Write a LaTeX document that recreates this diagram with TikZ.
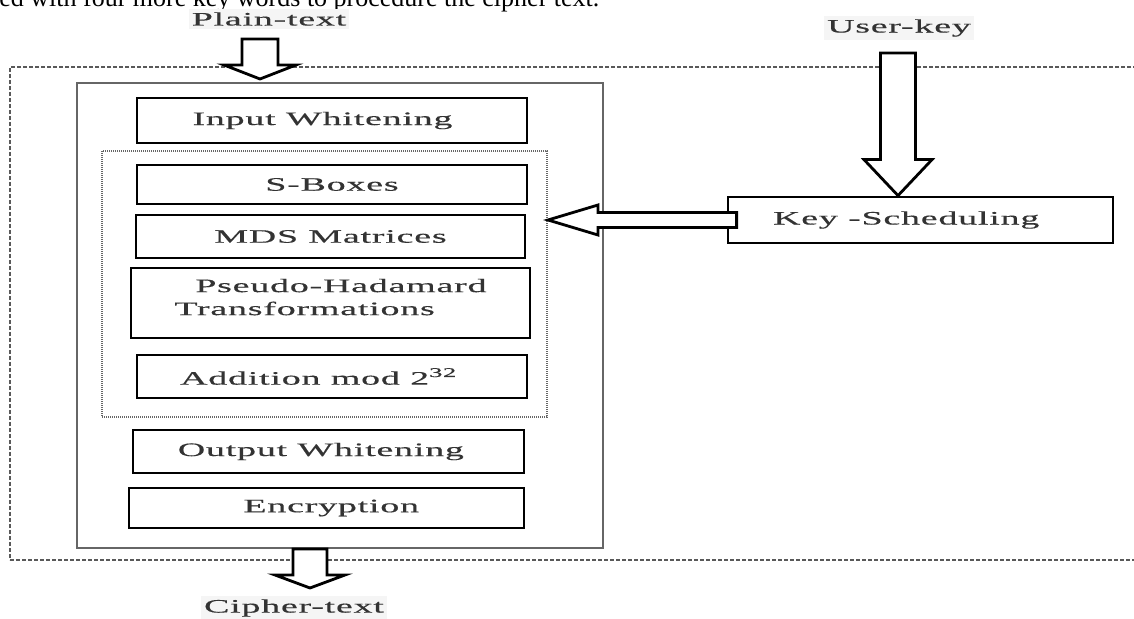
\documentclass[tikz,border=0pt]{standalone}
\usepackage{fontspec}
\setmainfont{Liberation Serif}
\newfontfamily\diagfont[FakeStretch=2.0,LetterSpace=4,FakeBold=0.4]{Liberation Serif}
\usetikzlibrary{calc}
\tikzset{
  stage/.style={draw=black, line width=1.4pt, fill=white, inner sep=0pt,
    font=\diagfont\fontsize{9.5}{11.5}\selectfont, text=black!80},
  lbl/.style={font=\diagfont\fontsize{9.5}{11.5}\selectfont, text=black!80, fill=black!4, inner sep=1.5pt},
  blk/.style={draw=black, line width=1.4pt, fill=white, line join=miter},
  outerdash/.style={draw=black!65, line width=0.6pt, dash pattern=on 2pt off 1pt, inner sep=0pt},
  innerdot/.style={draw=black!60, line width=1pt, dash pattern=on 0.5pt off 0.5pt, inner sep=0pt},
  outersolid/.style={draw=black!60, line width=1pt, inner sep=0pt},
}
% down block arrow: top, tip, shaft half width, head half width, head length
\newcommand{\blkdown}[5]{%
  \draw[blk] ($(#1)+(-#3,0)$) -- ($(#2)+(-#3,-#5)$) -- ($(#2)+(-#4,-#5)$) -- (#2)
    -- ($(#2)+(#4,-#5)$) -- ($(#2)+(#3,-#5)$) -- ($(#1)+(#3,0)$) -- cycle;}
% left block arrow: tail (right), tip (left), shaft half width, head half width, head length
\newcommand{\blkleft}[5]{%
  \draw[blk] ($(#1)+(0,-#3)$) -- ($(#2)+(#5,-#3)$) -- ($(#2)+(#5,-#4)$) -- (#2)
    -- ($(#2)+(#5,#4)$) -- ($(#2)+(#5,#3)$) -- ($(#1)+(0,#3)$) -- cycle;}
\begin{document}
\begin{tikzpicture}[x=0.5pt,y=-0.5pt]
\useasboundingbox (0,0) rectangle (1134,619);
\clip (0,0) rectangle (1134,619);
\fill[white] (0,0) rectangle (1134,619);

% stray line of the surrounding text
\node[anchor=base west, inner sep=0pt, font=\fontsize{13}{15}\selectfont] (stray) at (-1,6.5)
  {ed with four more key words to procedure the cipher text.};

% regions
\node[outerdash, minimum width=565pt, minimum height=246.5pt] (region) at (575,313.5) {};
\node[outersolid, minimum width=263pt, minimum height=232.5pt] (cipherbox) at (340,315.5) {};
\node[innerdot, minimum width=222.5pt, minimum height=133pt] (core) at (324.5,284) {};

% stages
\node[stage, minimum width=195pt, minimum height=22.5pt] (inw) at (332,120.5) {Input Whitening\hspace*{1em}};
\node[stage, minimum width=195pt, minimum height=19.5pt] (sbox) at (332,184.5) {S-Boxes};
\node[stage, minimum width=194.5pt, minimum height=21.5pt] (mds) at (330.5,236.5) {MDS Matrices};
\node[stage, minimum width=199.5pt, minimum height=35pt, align=left] (pht) at (330.5,303)
  {\hspace*{1.1em}Pseudo-Hadamard\\Transformations\rule[-6pt]{0pt}{6pt}};
\node[stage, minimum width=195pt, minimum height=21.5pt] (add) at (332,376.5) {Addition mod 2\textsuperscript{32}\hspace*{1.4em}};
\node[stage, minimum width=195.5pt, minimum height=21.5pt] (outw) at (328.5,451.5) {Output Whitening\hspace*{0.8em}};
\node[stage, minimum width=197.5pt, minimum height=20pt] (enc) at (326.5,508) {\hspace*{0.5em}Encryption};
\node[stage, minimum width=192.5pt, minimum height=23pt] (ks) at (920.5,220) {Key -Scheduling\hspace*{1.5em}};

% labels
\node[lbl] (plain) at (269,19) {Plain-text};
\node[lbl] (user) at (899,28) {User-key};
\node[lbl] (cipher) at (294,608) {Cipher-text};

% block arrows
\coordinate (ptop) at (260,39);
\coordinate (ptip) at (260,79);
\blkdown{ptop}{ptip}{18}{36}{14}

\coordinate (ux) at (898,0);
\coordinate (utop) at (898,53);
\coordinate (utip) at (ux |- ks.north);
\blkdown{utop}{utip}{17.5}{34}{36}

\coordinate (cx) at (310,0);
\coordinate (ctop) at (cx |- cipherbox.south);
\coordinate (ctip) at (310,588);
\blkdown{ctop}{ctip}{17}{35}{13}

\coordinate (ktail) at ($(ks.west)+(10,0)$);
\coordinate (ktip) at (core.east |- ks.west);
\blkleft{ktail}{ktip}{7.5}{15}{50}
\end{tikzpicture}
\end{document}
